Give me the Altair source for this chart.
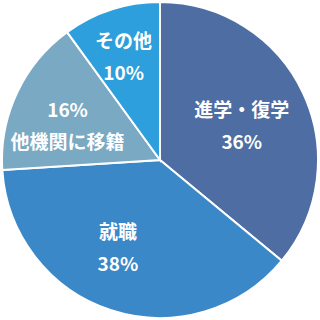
import altair as alt
import pandas as pd

# Slice data, clockwise from 12 o'clock
categories = ["進学・復学", "就職", "他機関に移籍", "その他"]
values = [36, 38, 16, 10]
colors = ["#4d6da3", "#3b88c8", "#7aa9c3", "#2c9fdc"]

# Label styling: distance from centre (px), angular nudge (deg), percent on top?
label_radius = [88, 98, 98, 108]
label_nudge = [3.5, 7.4, -5.8, -1.7]
pct_first = [False, False, True, False]

lines = []
for name, v, top in zip(categories, values, pct_first):
    pct = f"{v}%"
    lines.append(f"{pct}\n{name}" if top else f"{name}\n{pct}")

df = pd.DataFrame({
    "category": categories,
    "value": values,
    "order": list(range(len(categories))),
    "label": lines,
    "label_r": label_radius,
    "nudge": label_nudge,
})

base = alt.Chart(df)

arcs = base.mark_arc(outerRadius=158, stroke="white", strokeWidth=2).encode(
    theta=alt.Theta("value:Q", stack=True),
    color=alt.Color("category:N",
                    scale=alt.Scale(domain=categories, range=colors),
                    legend=None),
    order=alt.Order("order:Q", sort="ascending"),
)

LINE_H = 32

labels = base.transform_window(
    cum="sum(value)",
    sort=[alt.SortField("order", order="ascending")],
    frame=[None, 0],
).transform_joinaggregate(
    total="sum(value)"
).transform_calculate(
    mid="(datum.cum - datum.value / 2) / datum.total * 2 * PI + datum.nudge * PI / 180"
).mark_text(
    font="Noto Sans CJK JP",
    fontWeight="bold",
    fontSize=19,
    color="white",
    lineBreak="\n",
    lineHeight=LINE_H,
    dy=-LINE_H / 2,
    align="center",
    baseline="middle",
).encode(
    theta=alt.Theta("mid:Q", scale=None),
    radius=alt.Radius("label_r:Q", scale=None),
    text="label:N",
)

chart = (arcs + labels).properties(
    width=320,
    height=320,
    padding=0,
    autosize=alt.AutoSizeParams(type="none"),
    background="white",
).configure_view(stroke=None)

chart.save("out.html", embed_options={"renderer": "svg", "actions": False})
